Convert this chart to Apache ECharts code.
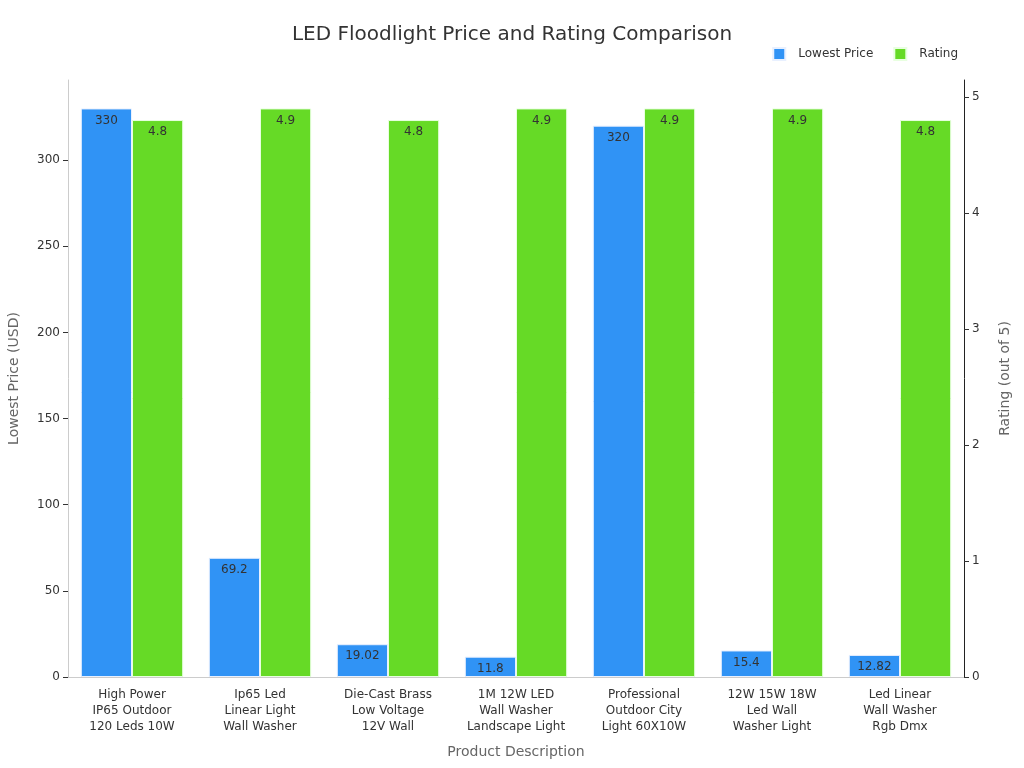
<!DOCTYPE html>
<html>
<head>
<meta charset="utf-8">
<script src="https://cdn.jsdelivr.net/npm/echarts@6/dist/echarts.min.js"></script>
<style>
  html, body { margin: 0; padding: 0; background: #fff; }
  #chart { width: 1024px; height: 768px; }
</style>
</head>
<body>
<div id="chart"></div>
<script>
const categories = [
    'High Power\nIP65 Outdoor\n120 Leds 10W',
    'Ip65 Led\nLinear Light\nWall Washer',
    'Die-Cast Brass\nLow Voltage\n12V Wall',
    '1M 12W LED\nWall Washer\nLandscape Light',
    'Professional\nOutdoor City\nLight 60X10W',
    '12W 15W 18W\nLed Wall\nWasher Light',
    'Led Linear\nWall Washer\nRgb Dmx'
];
const lowestPrice = [330, 69.2, 19.02, 11.8, 320, 15.4, 12.82];
const rating = [4.8, 4.9, 4.8, 4.9, 4.9, 4.9, 4.8];
const priceTicks = [0, 50, 100, 150, 200, 250, 300];
const ratingTicks = [0, 1, 2, 3, 4, 5];

const font = 'DejaVu Sans';
const chart = echarts.init(document.getElementById('chart'));

chart.setOption({
    textStyle: { fontFamily: font },
    title: {
        text: 'LED Floodlight Price and Rating Comparison',
        left: 'center',
        top: 20,
        textStyle: { fontFamily: font, fontSize: 20, fontWeight: 'normal', color: '#333' }
    },
    legend: {
        right: 61,
        top: 42,
        itemWidth: 12,
        itemHeight: 12,
        itemGap: 20,
        icon: 'rect',
        textStyle: { fontFamily: font, fontSize: 12, color: '#333', padding: [0, 0, 0, 8] },
        data: ['Lowest Price', 'Rating']
    },
    grid: { left: 68, right: 60, top: 80, bottom: 91, outerBoundsMode: 'none', containLabel: false },
    xAxis: {
        type: 'category',
        data: categories,
        name: 'Product Description',
        nameLocation: 'middle',
        nameGap: 68,
        nameTextStyle: { fontFamily: font, fontSize: 14, color: '#666' },
        axisLine: { lineStyle: { color: '#ccc' } },
        axisTick: { alignWithLabel: true, lineStyle: { color: '#999' } },
        axisLabel: { fontFamily: font, fontSize: 12, color: '#333', lineHeight: 16, margin: 10, interval: 0 }
    },
    yAxis: [{
        type: 'value',
        min: 0,
        max: 346.5,
        name: 'Lowest Price (USD)',
        nameLocation: 'middle',
        nameGap: 47,
        nameTextStyle: { fontFamily: font, fontSize: 14, color: '#666' },
        axisLine: { show: true, lineStyle: { color: '#ccc' } },
        axisTick: { show: true, customValues: priceTicks, lineStyle: { color: '#333' } },
        axisLabel: { customValues: priceTicks, fontFamily: font, fontSize: 12, color: '#333' },
        splitLine: { show: false }
    }, {
        type: 'value',
        min: 0,
        max: 5.145,
        name: 'Rating (out of 5)',
        nameLocation: 'middle',
        nameGap: 34,
        nameTextStyle: { fontFamily: font, fontSize: 14, color: '#666' },
        axisLine: { show: true, lineStyle: { color: '#222' } },
        axisTick: { show: true, customValues: ratingTicks, lineStyle: { color: '#333' } },
        axisLabel: { customValues: ratingTicks, fontFamily: font, fontSize: 12, color: '#333' },
        splitLine: { show: false }
    }],
    series: [{
        name: 'Lowest Price',
        type: 'bar',
        yAxisIndex: 0,
        data: lowestPrice,
        barGap: '0%',
        barCategoryGap: '20%',
        itemStyle: { color: '#3093f5', borderColor: '#e8f0ff', borderWidth: 1 },
        label: { show: true, position: 'insideTop', color: '#333', fontFamily: font, fontSize: 12, distance: 6 }
    }, {
        name: 'Rating',
        type: 'bar',
        yAxisIndex: 1,
        data: rating,
        barGap: '0%',
        barCategoryGap: '20%',
        itemStyle: { color: '#66da26', borderColor: '#e8ffe0', borderWidth: 1 },
        label: { show: true, position: 'insideTop', color: '#333', fontFamily: font, fontSize: 12, distance: 6 }
    }]
});
</script>
</body>
</html>
